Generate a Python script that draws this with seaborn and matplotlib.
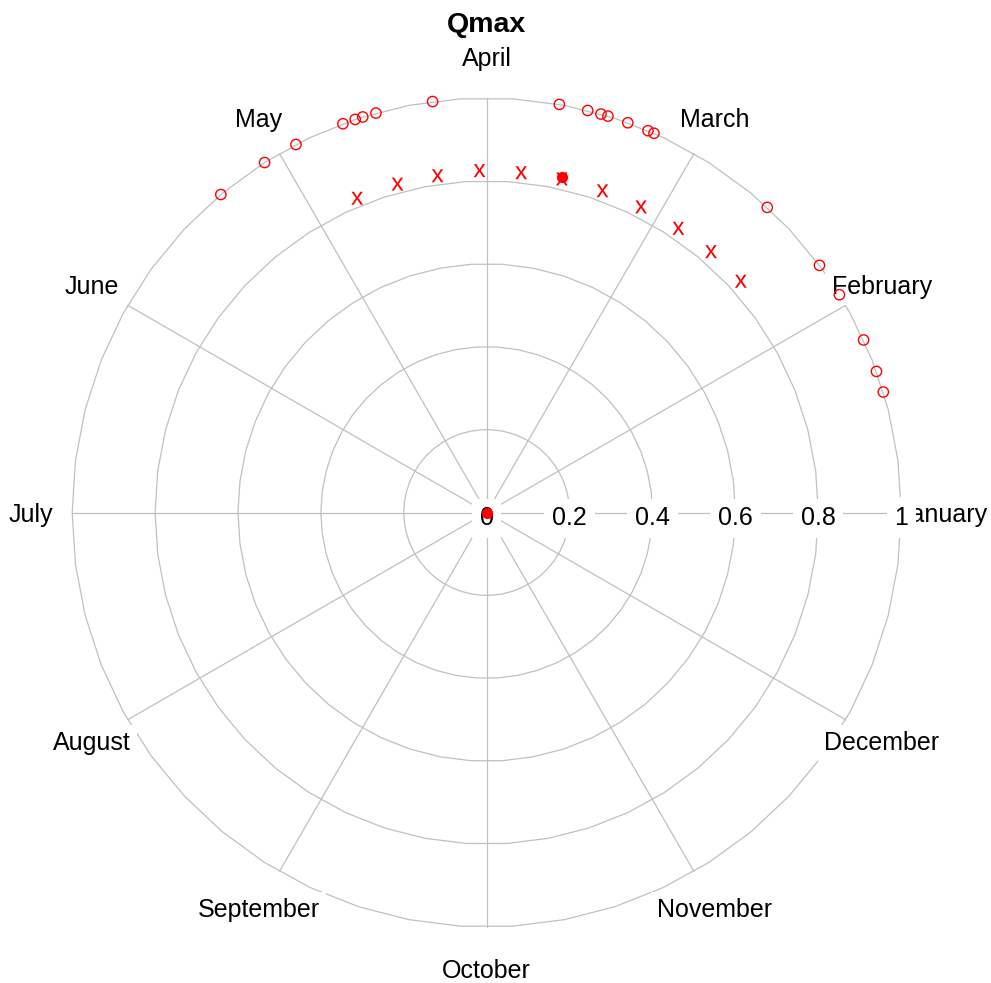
import numpy as np
import matplotlib
matplotlib.use("Agg")
import matplotlib.pyplot as plt
import seaborn as sns

sns.set_theme(style="white")
plt.rcParams['font.family'] = ['Liberation Sans', 'DejaVu Sans']
plt.rcParams['mathtext.fontset'] = 'custom'
plt.rcParams['mathtext.sf'] = 'Liberation Sans'
plt.rcParams['mathtext.rm'] = 'Liberation Sans'

# ---------------- data ----------------
months = ["January", "February", "March", "April", "May", "June",
          "July", "August", "September", "October", "November", "December"]
month_angle_deg = [0, 30, 60, 90, 120, 150, 180, 210, 240, 270, 300, 330]

r_ticks = [0.0, 0.2, 0.4, 0.6, 0.8, 1.0]
r_tick_labels = ["0", "0.2", "0.4", "0.6", "0.8", "1"]

# Qmax events (open circles)
qmax_angle_deg = [16.9, 19.9, 24.6, 31.7, 36.6, 47.4, 66.2, 67.1, 70.1, 73.0,
                  74.0, 75.9, 79.9, 97.5, 105.5, 107.4, 108.5, 110.3, 117.4,
                  122.4, 129.9]
qmax_r = [1.0, 1.0, 1.0, 1.0, 1.0, 1.0, 1.0, 1.0, 1.0, 1.0,
          1.0, 1.0, 1.0, 1.0, 1.0, 1.0, 1.0, 1.0, 1.0, 1.0, 1.0]

# "x" markers
x_angle_deg = [42.3, 49.3, 56.0, 63.2, 70.2, 77.3, 84.2, 91.2, 98.3, 105.2, 112.4]
x_r = [0.829, 0.830, 0.827, 0.826, 0.825, 0.825, 0.824, 0.825, 0.821, 0.821, 0.820]

# filled points (centre and mean direction)
mean_angle_deg = [0.0, 77.3]
mean_r = [0.0, 0.829]

# ---------------- figure ----------------
W, H = 991, 983
fig = plt.figure(figsize=(W / 100, H / 100), dpi=100, facecolor="white")
cx, cy, R = 486.7, 470.5, 414.5
ax = fig.add_axes([(cx - R) / W, (cy - R) / H, 2 * R / W, 2 * R / H],
                  projection="polar")
ax.axis("off")

grid_color = "#c0c0c0"
th = np.linspace(0, 2 * np.pi, 51)
for r in r_ticks[1:]:
    ax.plot(th, np.full_like(th, r), color=grid_color, lw=0.9,
            clip_on=False, zorder=1)
for a in month_angle_deg:
    ax.plot([np.deg2rad(a)] * 2, [0, r_ticks[-1]], color=grid_color, lw=0.9,
            clip_on=False, zorder=1)

box = dict(facecolor="white", edgecolor="none", pad=4.5)
for a, m in zip(month_angle_deg, months):
    ax.text(np.deg2rad(a), 1.1, m, ha="center", va="center_baseline",
            fontsize=18, color="black", bbox=box, zorder=3, clip_on=False)

for r, lbl in zip(r_ticks, r_tick_labels):
    ax.annotate(lbl, xy=(0, r), xytext=(0, -2.5), textcoords="offset points",
                ha="center", va="center_baseline", fontsize=18, color="black",
                bbox=dict(facecolor="white", edgecolor="none", pad=5.5),
                zorder=3.5, annotation_clip=False)

sns.scatterplot(x=np.deg2rad(qmax_angle_deg), y=qmax_r, ax=ax, marker="o",
                s=55, facecolor="none", edgecolor="red", linewidth=1.0,
                clip_on=False, zorder=5, legend=False)
sns.scatterplot(x=np.deg2rad(x_angle_deg), y=x_r, ax=ax, marker=r"$\mathsf{x}$",
                s=88, color="red", edgecolor="none", linewidth=0,
                clip_on=False, zorder=5, legend=False)
sns.scatterplot(x=np.deg2rad(mean_angle_deg), y=mean_r, ax=ax, marker="o",
                s=50, color="red", edgecolor="red", linewidth=1.0,
                clip_on=False, zorder=6, legend=False)

ax.set_ylim(0, 1)
ax.set_xlabel("")
ax.set_ylabel("")

fig.text(cx / W, 1 - 22 / H, "Qmax", ha="center", va="center_baseline",
         fontsize=20.5, fontweight="bold", color="black")

fig.savefig("out.png", dpi=100, facecolor="white")
